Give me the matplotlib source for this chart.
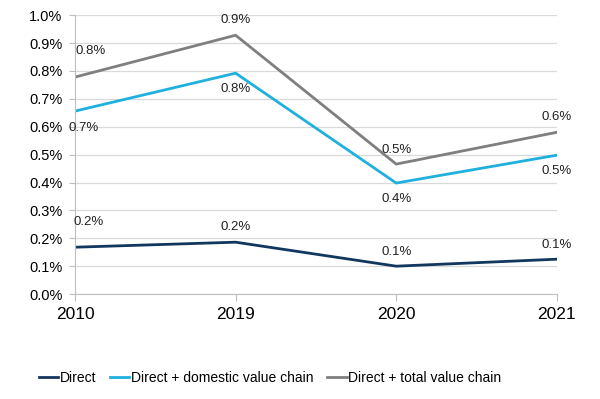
import matplotlib.pyplot as plt
from matplotlib.ticker import FuncFormatter

plt.rcParams['font.family'] = ['Liberation Sans', 'DejaVu Sans']

years = ['2010', '2019', '2020', '2021']
direct = [0.168, 0.186, 0.100, 0.125]
domestic = [0.656, 0.792, 0.398, 0.498]
total = [0.778, 0.928, 0.466, 0.580]
series_names = ['Direct', 'Direct + domestic value chain', 'Direct + total value chain']

colors = ['#12375f', '#1fb0dd', '#7f7f7f']
# label offsets in pixels (dx, dy) per point
offs_direct = [(14, 25), (0, 15), (0, 14), (0, 14)]
offs_domestic = [(9, -17), (0, -16), (0, -16), (0, -16)]
offs_total = [(16, 26), (0, 15), (0, 14), (0, 15)]

fig = plt.figure(figsize=(6, 3.99), dpi=100)
ax = fig.add_axes([0.125, 0.263, 0.803, 0.699])
x = range(len(years))

for vals, col, name, offs in [(direct, colors[0], series_names[0], offs_direct),
                              (domestic, colors[1], series_names[1], offs_domestic),
                              (total, colors[2], series_names[2], offs_total)]:
    ax.plot(x, vals, color=col, lw=2.0, label=name, solid_joinstyle='miter')
    for i, v in enumerate(vals):
        ax.annotate(f'{v:.1f}%', (i, v), xytext=offs[i], textcoords='offset pixels',
                    ha='center', va='center', fontsize=9.5, color='#222222')

ax.set_xlim(0, 3)
ax.set_ylim(0, 1.0)
ax.set_yticks([i / 10 for i in range(11)])
ax.yaxis.set_major_formatter(FuncFormatter(lambda v, p: f'{v:.1f}%'))
ax.set_xticks(list(x))
ax.set_xticklabels(years, fontsize=12.5)
ax.tick_params(axis='y', labelsize=10.5, length=4, color='#bfbfbf', pad=5)
ax.tick_params(axis='x', length=5, color='#bfbfbf', pad=4)
ax.grid(axis='y', color='#d9d9d9', lw=0.9)
ax.set_axisbelow(True)
for s in ['top', 'right']:
    ax.spines[s].set_visible(False)
for s in ['left', 'bottom']:
    ax.spines[s].set_color('#bfbfbf')

fig.legend(loc='center', bbox_to_anchor=(0.45, 0.053), ncol=3, frameon=False,
           fontsize=10, handlelength=1.4, handletextpad=0.1, columnspacing=1.0)

fig.savefig('out.png', dpi=100)
